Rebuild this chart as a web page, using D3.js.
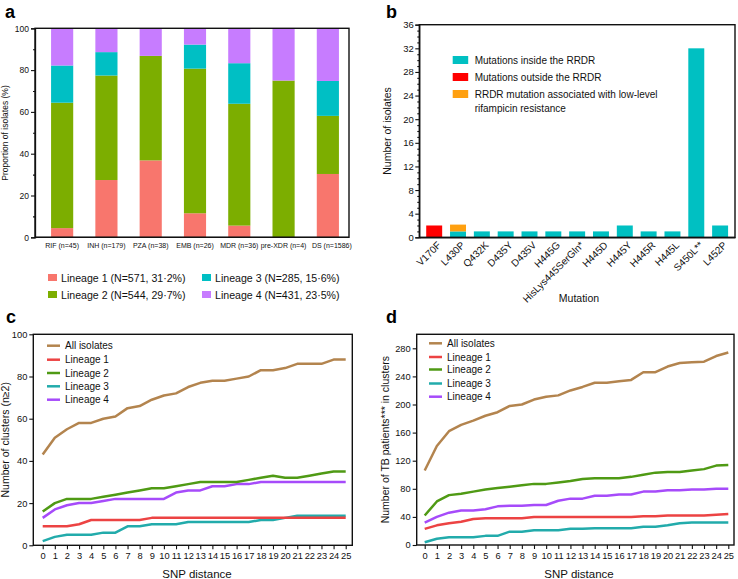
<!DOCTYPE html>
<html>
<head>
<meta charset="utf-8">
<script src="https://cdn.jsdelivr.net/npm/d3@7/dist/d3.min.js"></script>
<style>
  html, body { margin: 0; padding: 0; background: #fff; }
  svg { display: block; font-family: "Liberation Sans", Arial, Helvetica, sans-serif; }
</style>
</head>
<body>
<svg id="chart" width="738" height="579"></svg>
<script>
// ---------- DATA ----------
// Panel a
const drugCats = ["RIF (n=45)", "INH (n=179)", "PZA (n=38)", "EMB (n=26)", "MDR (n=36)", "pre-XDR (n=4)", "DS (n=1586)"];
const lin1Pct = [4.4, 27.4, 36.8, 11.5, 5.6, 0, 30.3];
const lin2Pct = [60.0, 50.0, 50.0, 69.2, 58.3, 75.0, 27.8];
const lin3Pct = [17.8, 11.2, 0, 11.5, 19.4, 0, 16.7];
const lin4Pct = [17.8, 11.4, 13.2, 7.7, 16.7, 25.0, 25.2];
const lineageNames = ["Lineage 1 (N=571, 31·2%)", "Lineage 2 (N=544, 29·7%)", "Lineage 3 (N=285, 15·6%)", "Lineage 4 (N=431, 23·5%)"];
const pctTicks = [0, 20, 40, 60, 80, 100];

// Panel b
const mutations = ["V170F", "L430P", "Q432K", "D435Y", "D435V", "H445G", "HisLys445SerGln*", "H445D", "H445Y", "H445R", "H445L", "S450L**", "L452P"];
const insideRRDR = [0, 1, 1, 1, 1, 1, 1, 1, 2, 1, 1, 32, 2];
const outsideRRDR = [2, 0, 0, 0, 0, 0, 0, 0, 0, 0, 0, 0, 0];
const lowLevelRRDR = [0, 1.15, 0, 0, 0, 0, 0, 0, 0, 0, 0, 0, 0];
const mutLegend = ["Mutations inside the RRDR", "Mutations outside the RRDR", "RRDR mutation associated with low-level"];
const isolateTicks = [0, 4, 8, 12, 16, 20, 24, 28, 32, 36];

// Panels c, d
const snpDistance = [0, 1, 2, 3, 4, 5, 6, 7, 8, 9, 10, 11, 12, 13, 14, 15, 16, 17, 18, 19, 20, 21, 22, 23, 24, 25];
const seriesNames = ["All isolates", "Lineage 1", "Lineage 2", "Lineage 3", "Lineage 4"];
// c: number of clusters
const clAll = [43, 51, 55, 58, 58, 60, 61, 65, 66, 69, 71, 72, 75, 77, 78, 78, 79, 80, 83, 83, 84, 86, 86, 86, 88, 88];
const clL1 = [9, 9, 9, 10, 12, 12, 12, 12, 12, 13, 13, 13, 13, 13, 13, 13, 13, 13, 13, 13, 13, 13, 13, 13, 13, 13];
const clL2 = [16, 20, 22, 22, 22, 23, 24, 25, 26, 27, 27, 28, 29, 30, 30, 30, 30, 31, 32, 33, 32, 32, 33, 34, 35, 35];
const clL3 = [2, 4, 5, 5, 5, 6, 6, 9, 9, 10, 10, 10, 11, 11, 11, 11, 11, 11, 12, 12, 13, 14, 14, 14, 14, 14];
const clL4 = [13, 17, 19, 20, 20, 21, 22, 22, 22, 22, 22, 25, 26, 26, 28, 28, 29, 29, 30, 30, 30, 30, 30, 30, 30, 30];
const clusterTicks = [0, 20, 40, 60, 80, 100];
// d: number of TB patients in clusters
const ptAll = [106, 141, 162, 171, 177, 184, 189, 198, 200, 207, 211, 213, 220, 225, 231, 231, 233, 235, 246, 246, 254, 259, 260, 261, 269, 274];
const ptL1 = [23, 28, 31, 33, 37, 38, 38, 38, 38, 40, 40, 40, 40, 40, 40, 40, 40, 40, 41, 41, 42, 42, 42, 42, 43, 44];
const ptL2 = [42, 62, 71, 73, 76, 79, 81, 83, 85, 87, 87, 89, 91, 94, 95, 95, 95, 97, 100, 103, 104, 104, 106, 108, 113, 114];
const ptL3 = [4, 9, 11, 11, 11, 13, 13, 19, 19, 21, 21, 21, 23, 23, 24, 24, 24, 24, 26, 26, 28, 31, 32, 32, 32, 32];
const ptL4 = [32, 40, 46, 49, 49, 51, 55, 56, 56, 57, 57, 63, 66, 66, 70, 70, 72, 72, 76, 76, 78, 78, 79, 79, 80, 80];
const patientTicks = [0, 40, 80, 120, 160, 200, 240, 280];

// ---------- STYLE ----------
const FONT = '"Liberation Sans", Arial, Helvetica, sans-serif';
const barColors = ["#F8766D", "#7CAE00", "#00BFC4", "#C77CFF"];
const mutColors = ["#00C0C2", "#FF0000", "#FFA010"];
const lineColors = ["#B3844E", "#EC4343", "#4F9A14", "#22ABAB", "#A64BFA"];

const svg = d3.select("#chart");

function styleAxis(g, fontSize) {
  g.attr("font-family", FONT).attr("font-size", fontSize);
  g.selectAll(".domain").attr("stroke", "#111").attr("stroke-width", 1.3);
  g.selectAll(".tick line").attr("stroke", "#111").attr("stroke-width", 1.1);
  g.selectAll(".tick text").attr("fill", "#111");
}
function frame(x0, y0, x1, y1) {
  svg.append("rect").attr("x", x0).attr("y", y0).attr("width", x1 - x0).attr("height", y1 - y0)
    .attr("fill", "none").attr("stroke", "#111").attr("stroke-width", 1.4);
}
function panelLabel(t, x, y) {
  svg.append("text").attr("x", x).attr("y", y).text(t)
    .attr("font-family", FONT).attr("font-weight", "bold").attr("font-size", 18).attr("fill", "#000");
}

// ================= PANEL A =================
(function () {
  const L = 35, R = 349, T = 28.3, B = 237.3;
  const x = d3.scaleBand().domain(drugCats).range([40, 350]).paddingInner(0.5).paddingOuter(0.25);
  const y = d3.scaleLinear().domain([0, 100]).range([B, T]);
  const rows = drugCats.map((c, i) => ({ cat: c, l1: lin1Pct[i], l2: lin2Pct[i], l3: lin3Pct[i], l4: lin4Pct[i] }));
  const stack = d3.stack().keys(["l1", "l2", "l3", "l4"])(rows);
  svg.append("g").selectAll("g").data(stack).join("g")
    .attr("fill", (d, i) => barColors[i])
    .selectAll("rect").data(d => d).join("rect")
    .attr("x", d => x(d.data.cat))
    .attr("width", x.bandwidth())
    .attr("y", d => y(d[1]))
    .attr("height", d => Math.max(0, y(d[0]) - y(d[1])));

  frame(L, T, R, B);
  const ga = svg.append("g").attr("transform", `translate(${L},0)`)
    .call(d3.axisLeft(y).tickValues(pctTicks).tickSize(4).tickPadding(2));
  styleAxis(ga, 8.5);
  const gm = svg.append("g").attr("transform", `translate(${L},0)`)
    .call(d3.axisLeft(y).tickValues([10, 30, 50, 70, 90]).tickSize(2).tickFormat(""));
  styleAxis(gm, 8.5);
  gm.select(".domain").remove();
  const gx = svg.append("g").attr("transform", `translate(0,${B})`)
    .call(d3.axisBottom(x).tickSize(0).tickPadding(6));
  styleAxis(gx, 7);
  gx.select(".domain").attr("d", `M${L},0H${R}`);
  // nudge the last label slightly right as in the original layout
  gx.selectAll(".tick text").filter(d => d === drugCats[drugCats.length - 1]).attr("dx", 4);

  svg.append("text").attr("transform", `translate(8,133) rotate(-90)`).attr("text-anchor", "middle")
    .attr("font-family", FONT).attr("font-size", 8.5).attr("fill", "#111").text("Proportion of isolates (%)");
  panelLabel("a", 5, 18);

  // legend
  const pos = [[48, 277.5], [48, 294.5], [202, 277.5], [202, 294.5]];
  lineageNames.forEach((n, i) => {
    svg.append("rect").attr("x", pos[i][0]).attr("y", pos[i][1] - 3.5).attr("width", 9).attr("height", 7).attr("fill", barColors[i]);
    svg.append("text").attr("x", pos[i][0] + 13).attr("y", pos[i][1] + 4).text(n)
      .attr("font-family", FONT).attr("font-size", 10.6).attr("fill", "#111");
  });
})();

// ================= PANEL B =================
(function () {
  const L = 419.3, R = 735, T = 24.7, B = 237.3;
  const x = d3.scaleBand().domain(mutations).range([L, R]).paddingInner(0.33).paddingOuter(0.29);
  const y = d3.scaleLinear().domain([0, 36]).range([B, T]);
  const rows = mutations.map((m, i) => ({ m, inside: insideRRDR[i], outside: outsideRRDR[i], low: lowLevelRRDR[i] }));
  const stack = d3.stack().keys(["inside", "outside", "low"])(rows);
  svg.append("g").selectAll("g").data(stack).join("g")
    .attr("fill", (d, i) => mutColors[i])
    .selectAll("rect").data(d => d.filter(v => v[1] > v[0])).join("rect")
    .attr("x", d => x(d.data.m))
    .attr("width", x.bandwidth())
    .attr("y", d => y(d[1]))
    .attr("height", d => y(d[0]) - y(d[1]));

  frame(L, T, R, B);
  const ga = svg.append("g").attr("transform", `translate(${L},0)`)
    .call(d3.axisLeft(y).tickValues(isolateTicks).tickSize(4).tickPadding(1.5));
  styleAxis(ga, 9.5);
  const minor = d3.range(0, 37).filter(v => v % 4 !== 0);
  const gm = svg.append("g").attr("transform", `translate(${L},0)`)
    .call(d3.axisLeft(y).tickValues(minor).tickSize(2).tickFormat(""));
  styleAxis(gm, 9);
  gm.select(".domain").remove();

  const gx = svg.append("g").attr("transform", `translate(0,${B})`)
    .call(d3.axisBottom(x).tickSize(0));
  styleAxis(gx, 10);
  gx.selectAll(".tick text")
    .attr("text-anchor", "end").attr("x", 0).attr("y", 0).attr("dy", "0.35em")
    .attr("transform", "translate(5,6) rotate(-45)");

  svg.append("text").attr("x", 579).attr("y", 302).attr("text-anchor", "middle")
    .attr("font-family", FONT).attr("font-size", 10.5).attr("fill", "#111").text("Mutation");
  svg.append("text").attr("transform", `translate(391,131) rotate(-90)`).attr("text-anchor", "middle")
    .attr("font-family", FONT).attr("font-size", 10.5).attr("fill", "#111").text("Number of isolates");
  panelLabel("b", 386, 18);

  const ly = [60, 77, 94];
  mutLegend.forEach((n, i) => {
    svg.append("rect").attr("x", 452.7).attr("y", ly[i] - 4).attr("width", 15.5).attr("height", 8).attr("fill", mutColors[i]);
    svg.append("text").attr("x", 474.7).attr("y", ly[i] + 3.6).text(n)
      .attr("font-family", FONT).attr("font-size", 10).attr("fill", "#111");
  });
  svg.append("text").attr("x", 474.7).attr("y", 111.6).text("rifampicin resistance")
    .attr("font-family", FONT).attr("font-size", 10).attr("fill", "#111");
})();

// ================= LINE PANELS =================
function linePanel(cfg) {
  const { L, R, T, B, x0, x1, ymax, ticks, series, ylabel, ylx, lbl, lblx, lgx, lgy, xlabx } = cfg;
  const x = d3.scaleLinear().domain([0, 25]).range([x0, x1]);
  const y = d3.scaleLinear().domain([0, ymax]).range([B, cfg.yTop]);
  const line = d3.line().x((d, i) => x(snpDistance[i])).y(d => y(d));
  frame(L, T, R, B);
  series.slice().reverse().forEach((s, k) => {
    const i = series.length - 1 - k;
    svg.append("path").attr("d", line(s)).attr("fill", "none")
      .attr("stroke", lineColors[i]).attr("stroke-width", 2.5)
      .attr("stroke-linejoin", "round").attr("stroke-linecap", "butt");
  });
  const ga = svg.append("g").attr("transform", `translate(${L},0)`)
    .call(d3.axisLeft(y).tickValues(ticks).tickSize(4).tickPadding(2));
  styleAxis(ga, 9.3);
  ga.select(".domain").remove();
  const gx = svg.append("g").attr("transform", `translate(0,${B})`)
    .call(d3.axisBottom(x).tickValues(snpDistance).tickSize(4).tickPadding(3).tickFormat(d3.format("d")));
  styleAxis(gx, 9.3);
  gx.select(".domain").remove();

  svg.append("text").attr("x", xlabx).attr("y", 578).attr("text-anchor", "middle")
    .attr("font-family", FONT).attr("font-size", 11.5).attr("fill", "#111").text("SNP distance");
  svg.append("text").attr("transform", `translate(${ylx},${(T + B) / 2}) rotate(-90)`).attr("text-anchor", "middle")
    .attr("font-family", FONT).attr("font-size", 10.5).attr("fill", "#111").text(ylabel);
  panelLabel(lbl, lblx, 323);

  seriesNames.forEach((n, i) => {
    const yy = lgy[i];
    svg.append("line").attr("x1", lgx).attr("x2", lgx + 13).attr("y1", yy).attr("y2", yy)
      .attr("stroke", lineColors[i]).attr("stroke-width", 2.5);
    svg.append("text").attr("x", lgx + 18).attr("y", yy + 3.6).text(n)
      .attr("font-family", FONT).attr("font-size", 10).attr("fill", "#111");
  });
}

linePanel({
  L: 33.3, R: 352.3, T: 334.3, B: 545.3, yTop: 334.3, x0: 42.7, x1: 345.7, ymax: 100,
  ticks: clusterTicks, series: [clAll, clL1, clL2, clL3, clL4],
  ylabel: "Number of clusters (n≥2)", ylx: 9, lbl: "c", lblx: 6, lgx: 47, lgy: [345.7, 359.7, 373, 386.3, 399.7], xlabx: 197
});
linePanel({
  L: 416.7, R: 734, T: 334.3, B: 545, yTop: 348.3, x0: 424.7, x1: 728.3, ymax: 280,
  ticks: patientTicks, series: [ptAll, ptL1, ptL2, ptL3, ptL4],
  ylabel: "Number of TB patients*** in clusters", ylx: 389, lbl: "d", lblx: 386, lgx: 429, lgy: [343.3, 357, 369.5, 383.5, 396.7], xlabx: 579
});
</script>
</body>
</html>
